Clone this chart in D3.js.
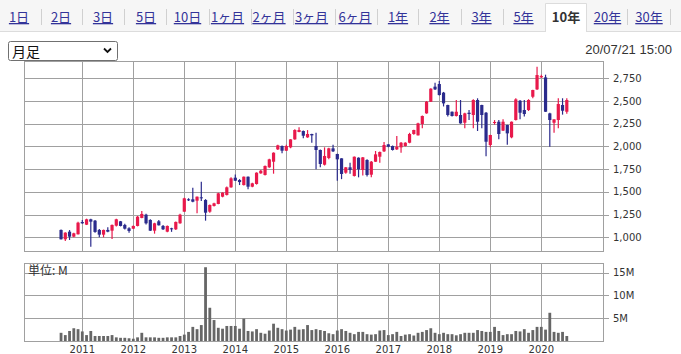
<!DOCTYPE html>
<html>
<head>
<meta charset="utf-8">
<script src="https://cdn.jsdelivr.net/npm/d3@7"></script>
<style>
  body { margin: 0; background: #fff; }
  svg { display: block; }
</style>
</head>
<body>
<script>
// monthly candles, Aug 2010 - Jul 2020
const months = [
  "2010-08","2010-09","2010-10","2010-11","2010-12",
  "2011-01","2011-02","2011-03","2011-04","2011-05","2011-06","2011-07","2011-08","2011-09","2011-10","2011-11","2011-12",
  "2012-01","2012-02","2012-03","2012-04","2012-05","2012-06","2012-07","2012-08","2012-09","2012-10","2012-11","2012-12",
  "2013-01","2013-02","2013-03","2013-04","2013-05","2013-06","2013-07","2013-08","2013-09","2013-10","2013-11","2013-12",
  "2014-01","2014-02","2014-03","2014-04","2014-05","2014-06","2014-07","2014-08","2014-09","2014-10","2014-11","2014-12",
  "2015-01","2015-02","2015-03","2015-04","2015-05","2015-06","2015-07","2015-08","2015-09","2015-10","2015-11","2015-12",
  "2016-01","2016-02","2016-03","2016-04","2016-05","2016-06","2016-07","2016-08","2016-09","2016-10","2016-11","2016-12",
  "2017-01","2017-02","2017-03","2017-04","2017-05","2017-06","2017-07","2017-08","2017-09","2017-10","2017-11","2017-12",
  "2018-01","2018-02","2018-03","2018-04","2018-05","2018-06","2018-07","2018-08","2018-09","2018-10","2018-11","2018-12",
  "2019-01","2019-02","2019-03","2019-04","2019-05","2019-06","2019-07","2019-08","2019-09","2019-10","2019-11","2019-12",
  "2020-01","2020-02","2020-03","2020-04","2020-05","2020-06","2020-07"
];

const open = [
  1081, 978,1062,1007,1033,1168,1139,1198,1183,1081,1029,1081,1073,1128,1176,1136,1099,1095,1125,1213,
  1249,1191,1073,1176,1125,1062,1099,1088,1154,1282,1418,1418,1403,1440,1411,1282,1345,1367,1447,1466,
  1550,1656,1630,1575,1667,1557,1587,1704,1686,1770,1832,1968,2005,1953,1990,2078,2159,2170,2100,2137,
  2005,1961,1799,1873,1979,1917,1869,1711,1770,1675,1876,1741,1851,1689,1832,1887,1946,2023,2005,1968,
  1990,2005,2041,2137,2122,2247,2364,2492,2658,2687,2592,2456,2382,2335,2346,2261,2371,2346,2511,2456,
  2371,2016,2261,2272,2174,2236,2100,2291,2503,2401,2401,2547,2628,2760,2760,2364,2261,2291,2456,2382
];
const high = [
  1085,1055,1080,1050,1170,1190,1205,1205,1190,1090,1085,1110,1140,1205,1180,1150,1110,1130,1235,1290,
  1260,1200,1160,1190,1135,1130,1105,1175,1260,1435,1430,1546,1450,1612,1420,1360,1380,1490,1495,1560,
  1660,1690,1640,1670,1670,1600,1715,1740,1790,1865,1935,2020,2010,2020,2080,2190,2210,2175,2180,2140,
  2151,1965,1990,1985,2020,1920,1870,1775,1820,1890,1880,1885,1860,1840,1950,1945,2050,2025,2010,2115,
  2050,2045,2150,2185,2260,2340,2500,2640,2700,2720,2600,2460,2385,2511,2511,2370,2400,2520,2530,2460,
  2380,2130,2290,2290,2300,2240,2275,2530,2510,2510,2520,2625,2877,2790,2790,2370,2300,2530,2530,2530
];
const low = [
   975, 960, 970,1000,1030,1150,1135, 897,1050,1000,1000,1055, 980,1120,1120,1085,1050,1090,1120,1210,
  1140,1070,1040,1130,1080,1055,1060,1080,1150,1280,1400,1385,1264,1400,1183,1270,1340,1365,1440,1460,
  1545,1620,1575,1570,1530,1550,1580,1700,1680,1765,1700,1960,1925,1950,1980,2075,2155,2090,2095,2040,
  1748,1770,1790,1860,1940,1623,1640,1700,1700,1670,1660,1680,1670,1660,1830,1820,1940,1990,1955,1960,
  1930,2000,2035,2130,2120,2200,2360,2490,2620,2560,2440,2330,2330,2330,2250,2200,2290,2200,2170,2200,
  1893,1990,2240,2080,2170,2020,2090,2285,2300,2330,2390,2530,2620,2755,2380,1997,2150,2200,2350,2360
];
const close = [
   978,1051,1007,1044,1161,1154,1198,1172,1059,1029,1081,1062,1136,1198,1125,1095,1070,1125,1227,1257,
  1154,1073,1154,1132,1088,1125,1088,1169,1249,1429,1407,1392,1447,1429,1271,1356,1374,1484,1491,1550,
  1649,1623,1608,1667,1557,1594,1711,1733,1785,1858,1931,2012,1953,2005,2078,2181,2181,2118,2137,2122,
  1961,1807,1895,1979,1946,1858,1697,1770,1741,1887,1748,1880,1686,1832,1913,1939,2016,1997,1961,1997,
  2041,2041,2137,2181,2254,2335,2492,2636,2628,2566,2474,2346,2335,2382,2254,2364,2357,2511,2272,2346,
  2052,2126,2269,2137,2272,2144,2272,2518,2371,2357,2511,2621,2786,2775,2382,2291,2298,2467,2393,2511
];
// volume, millions of shares
const volume = [
  1.8,1.3,2.2,2.8,2.6,2.1,1.3,2.2,1.1,1.1,1.1,1.1,1.3,0.8,0.7,0.7,0.6,0.5,0.8,1.8,
  0.8,0.8,0.8,0.7,0.7,0.8,0.8,0.8,1.1,1.4,2.0,3.1,2.6,3.5,16.2,7.3,4.6,2.9,2.7,3.3,
  3.3,3.3,2.7,4.9,2.2,2.1,2.6,1.8,1.6,2.3,3.8,2.9,2.6,2.3,2.5,3.1,2.5,2.6,3.5,2.4,
  2.6,2.4,2.2,1.7,1.5,2.3,2.6,2.2,1.8,1.5,2.0,2.0,1.5,1.4,1.5,2.3,2.4,1.3,1.5,2.0,
  1.1,1.4,1.5,1.2,1.8,2.0,2.4,2.8,1.8,1.5,1.8,1.5,1.5,1.25,1.5,1.8,1.8,1.8,2.4,2.2,
  2.0,2.0,3.1,2.2,1.3,1.5,1.5,2.2,2.1,2.6,1.8,2.4,3.1,3.1,2.5,6.2,2.0,1.8,2.0,1.1
];

const yearTicks = [2011, 2012, 2013, 2014, 2015, 2016, 2017, 2018, 2019, 2020];
const priceTicks = [1000, 1250, 1500, 1750, 2000, 2250, 2500, 2750];
const volTicks = [5, 10, 15];
const periodTabs = ["1日","2日","3日","5日","10日","1ヶ月","2ヶ月","3ヶ月","6ヶ月","1年","2年","3年","5年","10年","20年","30年"];
const activeTab = "10年";

const upColor = "#e8194b";
const downColor = "#2a2a8c";
const gridColor = "#a0a0a0";
const axisFont = "'DejaVu Sans', Verdana, sans-serif";
const jpFont = "'Noto Sans CJK JP', 'Noto Sans', sans-serif";

let svg = d3.select('body')
  .append('svg')
  .attr('width', 681)
  .attr('height', 354);

let candles = months.map((m, i) => ({
  m: +m.slice(0, 4) * 12 + (+m.slice(5, 7)) - 1,
  o: open[i], h: high[i], l: low[i], c: close[i], v: volume[i]
}));

let x = d3.scaleLinear()
  .domain([2011 * 12, 2020 * 12])
  .range([82.3, 541.3]);
let y = d3.scaleLinear()
  .domain([1000, 2750])
  .range([237.3, 78.3]);
let yV = d3.scaleLinear()
  .domain([0, 15])
  .range([341, 272.7]);

let main = { left: 24, right: 603, top: 61, bottom: 251 };
let vol = { left: 24, right: 603, top: 263, bottom: 341 };

drawTabs();
drawHeader();
drawPanel(main, priceTicks, y, d => d3.format(',')(d));
drawPanel(vol, volTicks, yV, d => d + 'M');
drawCandles();
drawVolume();
drawYears();


function drawTabs() {
  svg.append('rect')
    .attr('x', 0).attr('y', 0)
    .attr('width', 681).attr('height', 31)
    .attr('fill', '#f6f6f6');
  svg.append('line')
    .attr('x1', 0).attr('x2', 681)
    .attr('y1', 31.5).attr('y2', 31.5)
    .attr('stroke', '#dcdcdc');

  let centers = [19, 61, 103, 146, 187.5, 227.5, 269, 311.5, 355, 398, 439.5, 481.5, 523.5, 566, 607.5, 649];
  let seps = [41, 82, 124, 166, 209, 251, 293, 335, 377, 418, 461, 503, 627, 670];

  // active tab box
  svg.append('path')
    .attr('d', 'M545.5,32V3.5H586.5V32')
    .attr('fill', '#fff')
    .attr('stroke', '#dcdcdc');

  svg.selectAll('line.sep').data(seps)
    .enter().append('line')
    .attr('class', 'sep')
    .attr('x1', d => d + 0.5).attr('x2', d => d + 0.5)
    .attr('y1', 9).attr('y2', 25)
    .attr('stroke', '#d0d0d0');

  svg.selectAll('text.tab').data(periodTabs)
    .enter().append('text')
    .attr('class', 'tab')
    .attr('x', (d, i) => centers[i])
    .attr('y', 22)
    .attr('text-anchor', 'middle')
    .attr('font-family', jpFont)
    .attr('font-size', 13)
    .attr('font-weight', d => d === activeTab ? 'bold' : 'normal')
    .attr('fill', d => d === activeTab ? '#333' : '#333399')
    .style('text-decoration', d => d === activeTab ? 'none' : 'underline')
    .text(d => d);
}

function drawHeader() {
  svg.append('rect')
    .attr('x', 8.5).attr('y', 41.5)
    .attr('width', 109).attr('height', 19)
    .attr('rx', 2)
    .attr('fill', '#fff')
    .attr('stroke', '#707070');
  svg.append('text')
    .attr('x', 12).attr('y', 56.5)
    .attr('font-family', jpFont)
    .attr('font-size', 14)
    .attr('fill', '#111')
    .text('月足');
  svg.append('path')
    .attr('d', 'M104,48.5L107.5,52L111,48.5')
    .attr('fill', 'none')
    .attr('stroke', '#111')
    .attr('stroke-width', 1.8);

  svg.append('text')
    .attr('x', 672).attr('y', 54)
    .attr('text-anchor', 'end')
    .attr('font-family', "'Liberation Sans', Arial, sans-serif")
    .attr('font-size', 13)
    .attr('fill', '#333')
    .text('20/07/21 15:00');
}

function drawPanel(p, ticks, scale, fmt) {
  let g = svg.append('g');
  g.selectAll('line.h').data(ticks)
    .enter().append('line')
    .attr('x1', p.left).attr('x2', p.right + 6)
    .attr('y1', d => Math.round(scale(d)) + 0.5)
    .attr('y2', d => Math.round(scale(d)) + 0.5)
    .attr('stroke', gridColor);
  g.selectAll('line.v').data(yearTicks)
    .enter().append('line')
    .attr('x1', d => Math.round(x(d * 12)) + 0.5)
    .attr('x2', d => Math.round(x(d * 12)) + 0.5)
    .attr('y1', p.top).attr('y2', p.bottom)
    .attr('stroke', gridColor);
  g.append('rect')
    .attr('x', p.left + 0.5).attr('y', p.top + 0.5)
    .attr('width', p.right - p.left).attr('height', p.bottom - p.top)
    .attr('fill', 'none')
    .attr('stroke', gridColor);
  g.selectAll('text').data(ticks)
    .enter().append('text')
    .attr('x', p.right + 10)
    .attr('y', d => scale(d) + 3.5)
    .attr('font-family', axisFont)
    .attr('font-size', 10)
    .attr('fill', '#333')
    .text(fmt);
}

function drawCandles() {
  let g = svg.append('g');
  g.selectAll('line').data(candles)
    .enter().append('line')
    .attr('x1', d => x(d.m)).attr('x2', d => x(d.m))
    .attr('y1', d => y(d.h)).attr('y2', d => y(d.l))
    .attr('stroke', d => d.c >= d.o ? upColor : downColor)
    .attr('stroke-width', 1.2);
  g.selectAll('rect').data(candles)
    .enter().append('rect')
    .attr('x', d => x(d.m) - 1.6)
    .attr('width', 3.2)
    .attr('y', d => y(Math.max(d.o, d.c)))
    .attr('height', d => Math.max(1, Math.abs(y(d.o) - y(d.c))))
    .attr('fill', d => d.c >= d.o ? upColor : downColor);
}

function drawVolume() {
  svg.append('g').selectAll('rect').data(candles)
    .enter().append('rect')
    .attr('x', d => x(d.m) - 1.4)
    .attr('width', 2.8)
    .attr('y', d => yV(d.v))
    .attr('height', d => yV(0) - yV(d.v))
    .attr('fill', '#666');
  svg.append('text')
    .attr('x', 28).attr('y', 275)
    .attr('font-family', jpFont)
    .attr('font-size', 12)
    .attr('fill', '#333')
    .text('単位: M');
}

function drawYears() {
  svg.selectAll('text.year').data(yearTicks)
    .enter().append('text')
    .attr('class', 'year')
    .attr('x', d => x(d * 12))
    .attr('y', 352.5)
    .attr('text-anchor', 'middle')
    .attr('font-family', axisFont)
    .attr('font-size', 10)
    .attr('fill', '#333')
    .text(d => d);
}
</script>
</body>
</html>
